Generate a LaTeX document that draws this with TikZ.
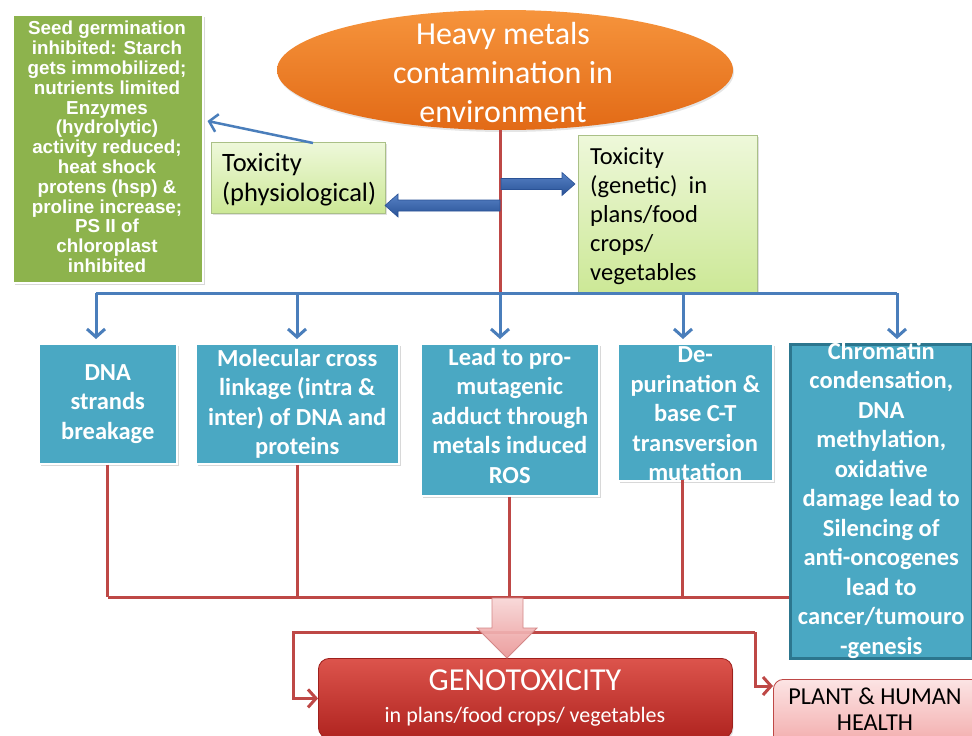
\documentclass[tikz,border=0pt]{standalone}
\usepackage{fontspec}
\setmainfont{Carlito}
\newfontfamily\arialfont{Liberation Sans}
\usetikzlibrary{arrows.meta,shadows,calc,shapes.geometric}
\definecolor{tealfill}{RGB}{74,168,195}
\definecolor{tealdark}{RGB}{44,118,142}
\definecolor{seedgreen}{RGB}{141,179,77}
\definecolor{lgtop}{RGB}{238,248,218}
\definecolor{lgbot}{RGB}{204,232,150}
\definecolor{lgdraw}{RGB}{170,192,135}
\definecolor{ortop}{RGB}{246,148,60}
\definecolor{orbot}{RGB}{226,106,22}
\definecolor{blueln}{RGB}{74,126,187}
\definecolor{blktop}{RGB}{86,130,198}
\definecolor{blkbot}{RGB}{42,82,150}
\definecolor{redln}{RGB}{190,72,70}
\definecolor{genotop}{RGB}{220,84,76}
\definecolor{genobot}{RGB}{176,36,32}
\definecolor{pinktop}{RGB}{252,228,228}
\definecolor{pinkbot}{RGB}{242,168,168}
\definecolor{pkarrtop}{RGB}{248,214,214}
\definecolor{pkarrbot}{RGB}{234,150,150}
\begin{document}
\begin{tikzpicture}[x=1pt,y=-1pt,
  boxbase/.style={rectangle, inner sep=0pt, anchor=north west},
  seedbox/.style={boxbase, fill=seedgreen, draw=white, line width=1.5pt,
    drop shadow={shadow xshift=2pt, shadow yshift=-2pt, opacity=0.3}},
  lgbox/.style={boxbase, top color=lgtop, bottom color=lgbot, draw=lgdraw, line width=0.8pt,
    drop shadow={shadow xshift=2pt, shadow yshift=-2pt, opacity=0.25}},
  tealbox/.style={boxbase, fill=tealfill, draw=white, line width=1.5pt,
    drop shadow={shadow xshift=2pt, shadow yshift=-2pt, opacity=0.3}},
  tealtext/.style={align=center, text=white, inner sep=0pt,
    font=\bfseries\fontsize{24.5}{29.5}\selectfont},
  blackleft/.style={align=left, anchor=west, inner sep=0pt, text=black},
  blueline/.style={draw=blueln, line width=3pt},
  bluearrow/.style={draw=blueln, line width=3pt, -{Straight Barb[length=8pt,width=18pt]}},
  redline/.style={draw=redln, line width=3pt},
  redarrow/.style={draw=redln, line width=3pt, -{Straight Barb[length=8pt,width=18pt]}},
  blockarrow/.style={top color=blktop, bottom color=blkbot, draw=blkbot, line width=0.6pt},
  pinkarrow/.style={top color=pkarrtop, bottom color=pkarrbot, draw=pkarrbot!90!black, line width=0.8pt, fill opacity=0.92}
]
\useasboundingbox (0,0) rectangle (972,736);
\clip (0,0) rectangle (972,736);
\fill[white] (0,0) rectangle (972,736);

% ellipse
\node[ellipse, minimum width=456pt, minimum height=120pt, inner sep=0pt,
  top color=ortop, bottom color=orbot, draw=none,
  drop shadow={shadow xshift=1pt, shadow yshift=-2pt, opacity=0.2}] (heavy) at (505,70) {};
\node[align=center, text=white, inner sep=0pt, font=\fontsize{32}{39}\selectfont] (heavytxt) at (503,72.6)
  {Heavy metals\\contamination in\\environment};

% spine
\coordinate (spine) at (500,293);
\draw[redline] (heavy.south -| spine) -- (spine);

% left green box
\node[seedbox, minimum width=190pt, minimum height=268pt] (seed) at (12,14) {};
\node[align=center, text=white, inner sep=0pt, font=\arialfont\bfseries\fontsize{18.8}{19.8}\selectfont] (seedtxt) at (107,147)
  {Seed germination\\inhibited: Starch\\gets immobilized;\\nutrients limited\\Enzymes\\(hydrolytic)\\activity reduced;\\heat shock\\protens (hsp) \&\\proline increase;\\PS II of\\chloroplast\\inhibited};

% physiological box
\node[lgbox, minimum width=174pt, minimum height=71pt] (phys) at (211,142) {};
\node[blackleft, font=\fontsize{26.5}{30}\selectfont] (phystxt) at (222,179.8) {Toxicity\\(physiological)};

% genetic box
\node[lgbox, minimum width=179pt, minimum height=158pt] (gen) at (578,135) {};
\node[blackleft, font=\fontsize{24.5}{29}\selectfont] (gentxt) at (590,216) {Toxicity\\(genetic)~ in\\plans/food\\crops/\\vegetables};

% thin blue arrow to seed box
\draw[bluearrow, line width=2.5pt] ($(phys.north west)+(102,1)$) -- ($(seed.north east)+(4,107)$);

% block arrows
\draw[blockarrow] (500,200) -- (398,200) -- (398,194) -- (385,205.5) -- (398,217) -- (398,211) -- (500,211) -- cycle;
\draw[blockarrow] (501,178.5) -- (562,178.5) -- (562,172.5) -- (575,184) -- (562,195.5) -- (562,189.5) -- (501,189.5) -- cycle;

% teal boxes
\node[tealbox, minimum width=138pt, minimum height=120pt] (b1) at (38,343) {};
\node[tealbox, minimum width=203pt, minimum height=120pt] (b2) at (195,343) {};
\node[tealbox, minimum width=178pt, minimum height=152pt] (b3) at (420,343) {};
\node[tealbox, minimum width=155pt, minimum height=137pt] (b4) at (617,343) {};
\node[boxbase, fill=tealfill, draw=tealdark, line width=2.5pt, minimum width=182pt, minimum height=314pt] (b5) at (789,343) {};

\node[tealtext] (t1) at (b1.center) {DNA\\strands\\breakage};
\node[tealtext] (t2) at (b2.center) {Molecular cross\\linkage (intra \&\\inter) of DNA and\\proteins};
\node[tealtext] (t3) at ($(b3.center)+(0,-4)$) {Lead to pro-\\mutagenic\\adduct through\\metals induced\\ROS};
\node[tealtext] (t4) at ($(b4.center)+(0,1.5)$) {De-\\purination \&\\base C-T\\transversion\\mutation};
\node[tealtext] (t5) at ($(b5.center)+(0,-1)$) {Chromatin\\condensation,\\DNA\\methylation,\\oxidative\\damage lead to\\Silencing of\\anti-oncogenes\\lead to\\cancer/tumouro\\-genesis};

% blue bus
\coordinate (a1) at (96,293);
\coordinate (a2) at (297,293);
\coordinate (a3) at (500,293);
\coordinate (a4) at (683,293);
\coordinate (a5) at (897,293);
\draw[blueline] (a1) -- (a5);
\foreach \p in {a1,a2,a3,a4,a5}{
  \draw[bluearrow] (\p) -- ++(0,46);
}

% red lower bus
\coordinate (rb) at (0,597);
\coordinate (b4out) at (682,480);
\draw[redline] (b1.south) -- (b1.south |- rb);
\draw[redline] (b2.south) -- (b2.south |- rb);
\draw[redline] (b3.south) -- (b3.south |- rb);
\draw[redline] (b4out) -- (b4out |- rb);
\draw[redline] (b1.south |- rb) -- (b5.west |- rb);

% genotoxicity box
\node[boxbase, rounded corners=11pt, top color=genotop, bottom color=genobot, draw=genobot!90!black, line width=0.8pt,
  minimum width=414pt, minimum height=80pt,
  drop shadow={shadow xshift=1pt, shadow yshift=-2pt, opacity=0.25}] (geno) at (318,658) {};
\node[anchor=base, text=white, inner sep=0pt, font=\fontsize{32}{38}\selectfont] (genot1) at (525,690) {GENOTOXICITY};
\node[anchor=base, text=white, inner sep=0pt, font=\fontsize{22}{26}\selectfont] (genot2) at (525,722) {in plans/food crops/ vegetables};

% plant box
\node[boxbase, rounded corners=10pt, top color=pinktop, bottom color=pinkbot, draw=redln, line width=0.8pt,
  minimum width=210pt, minimum height=70pt] (plant) at (773,679) {};
\node[anchor=base, text=black, inner sep=0pt, font=\fontsize{24.3}{29}\selectfont] (plantt1) at (875,704) {PLANT \& HUMAN};
\node[anchor=base, text=black, inner sep=0pt, font=\fontsize{24.3}{29}\selectfont] (plantt2) at (875,730) {HEALTH};

% second red line with arrows
\coordinate (jl) at (293,632);
\coordinate (jr) at (755,632);
\coordinate (pl) at ($(plant.north west)+(0,7)$);
\draw[redarrow] (jr) -- (jl) -- (jl |- geno.west) -- (geno.west);
\draw[redarrow] (jr) -- (jr |- pl) -- (pl);

% pink block arrow
\draw[pinkarrow] (492,598) -- (523,598) -- (523,628) -- (537,628) -- (507,658) -- (477,628) -- (492,628) -- cycle;

\end{tikzpicture}
\end{document}
